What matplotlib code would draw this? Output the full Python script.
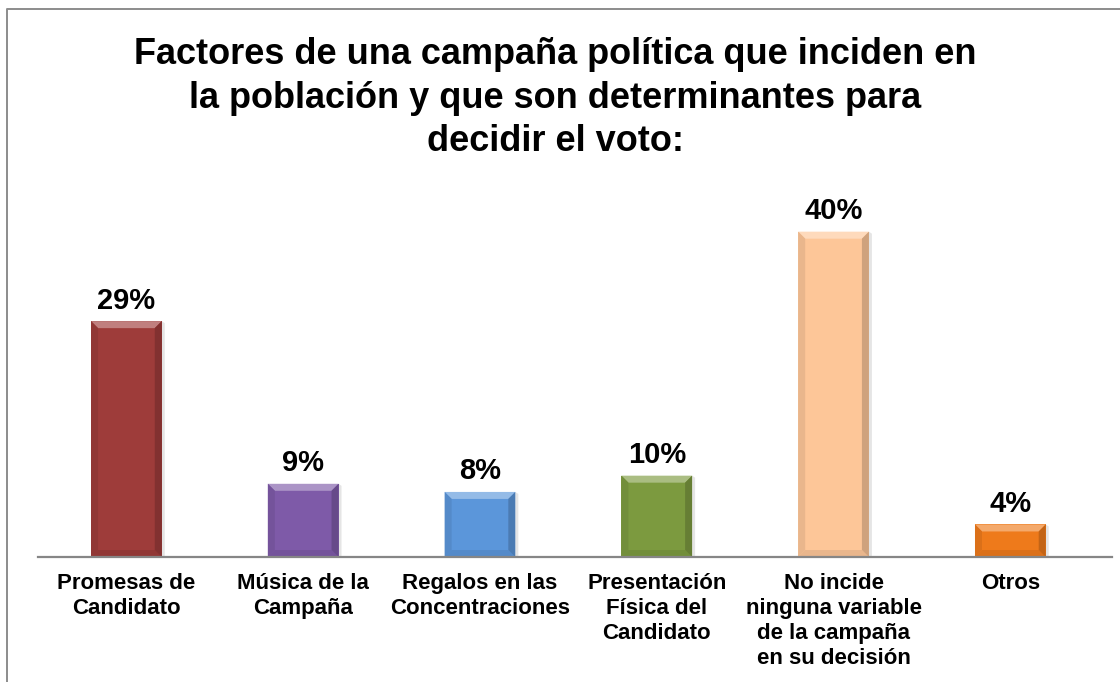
import matplotlib
matplotlib.use("Agg")
import matplotlib.pyplot as plt
from matplotlib.patches import Polygon
from matplotlib.lines import Line2D
import matplotlib.colors as mcolors
import numpy as np

plt.rcParams['font.family'] = ['Liberation Sans', 'DejaVu Sans']

categorias = ["Promesas de\nCandidato", "Música de la\nCampaña", "Regalos en las\nConcentraciones",
              "Presentación\nFísica del\nCandidato", "No incide\nninguna variable\nde la campaña\nen su decisión",
              "Otros"]
porcentajes = [29, 9, 8, 10, 40, 4]
colores = ["#9E3C3A", "#7E5AA8", "#5B96DA", "#7C9A3F", "#FDC698", "#EE7A1B"]

fig = plt.figure(figsize=(11.2, 6.82), dpi=100)
ax = fig.add_axes([38 / 1120, 125 / 682, 1074 / 1120, 366 / 682])

x = np.arange(len(porcentajes))
bars = ax.bar(x, porcentajes, width=0.40, color=colores, zorder=3)
ax.set_xlim(-0.5, 5.575)
ax.set_ylim(0, 45)

# bevel: lighter top edge, darker sides/bottom, soft shadow on the right
px_x = 1.0 / (1074 / 6.075)
px_y = 45.0 / 366
b = 7
for bar, c in zip(bars, colores):
    x0, w, h = bar.get_x(), bar.get_width(), bar.get_height()
    x1 = x0 + w
    bx, by = b * px_x, min(b * px_y, h / 2)
    rgb = np.array(mcolors.to_rgb(c))
    light = rgb + (1 - rgb) * 0.35
    dark = rgb * 0.82
    mid_dark = rgb * 0.92
    ax.add_patch(Polygon([(x1, 0), (x1 + 3 * px_x, 0), (x1 + 3 * px_x, h - 2 * px_y), (x1, h)],
                         closed=True, color="#000000", alpha=0.10, lw=0, zorder=2))
    ax.add_patch(Polygon([(x0, h), (x1, h), (x1 - bx, h - by), (x0 + bx, h - by)],
                         closed=True, color=light, lw=0, zorder=4))
    ax.add_patch(Polygon([(x0, 0), (x1, 0), (x1 - bx, by), (x0 + bx, by)],
                         closed=True, color=mid_dark, lw=0, zorder=4))
    ax.add_patch(Polygon([(x1, 0), (x1, h), (x1 - bx, h - by), (x1 - bx, by)],
                         closed=True, color=dark, lw=0, zorder=4))
    ax.add_patch(Polygon([(x0, 0), (x0, h), (x0 + bx, h - by), (x0 + bx, by)],
                         closed=True, color=mid_dark, lw=0, zorder=4))

for xi, v in zip(x, porcentajes):
    ax.annotate(f"{v}%", (xi, v), xytext=(0, 9), textcoords="offset points",
                ha="center", va="baseline", fontsize=21, fontweight="bold", color="black")

# category names under the baseline
for xi, cat in zip(x, categorias):
    ax.annotate(cat, (xi, 0), xytext=(0, -11.5), textcoords="offset points",
                ha="center", va="top", multialignment="center", linespacing=1.26,
                fontsize=16, fontweight="bold", color="black", annotation_clip=False)

ax.set_xticks([])
ax.set_yticks([])
for s in ["top", "right", "left"]:
    ax.spines[s].set_visible(False)
ax.spines["bottom"].set_color("#868686")
ax.spines["bottom"].set_linewidth(1.6)
ax.spines["bottom"].set_zorder(5)

fig.text(0.496, 1 - 98 / 682,
         "Factores de una campaña política que inciden en\nla población y que son determinantes para\ndecidir el voto:",
         ha="center", va="center", fontsize=26, fontweight="bold", linespacing=1.33)

# chart area frame (cut at right and bottom)
fig.add_artist(Line2D([7 / 1120, 7 / 1120, 1.0], [0.0, 1 - 9 / 682, 1 - 9 / 682],
                      transform=fig.transFigure, color="#8c8c8c", lw=1.4))

fig.savefig("out.png", dpi=100, facecolor="white")
